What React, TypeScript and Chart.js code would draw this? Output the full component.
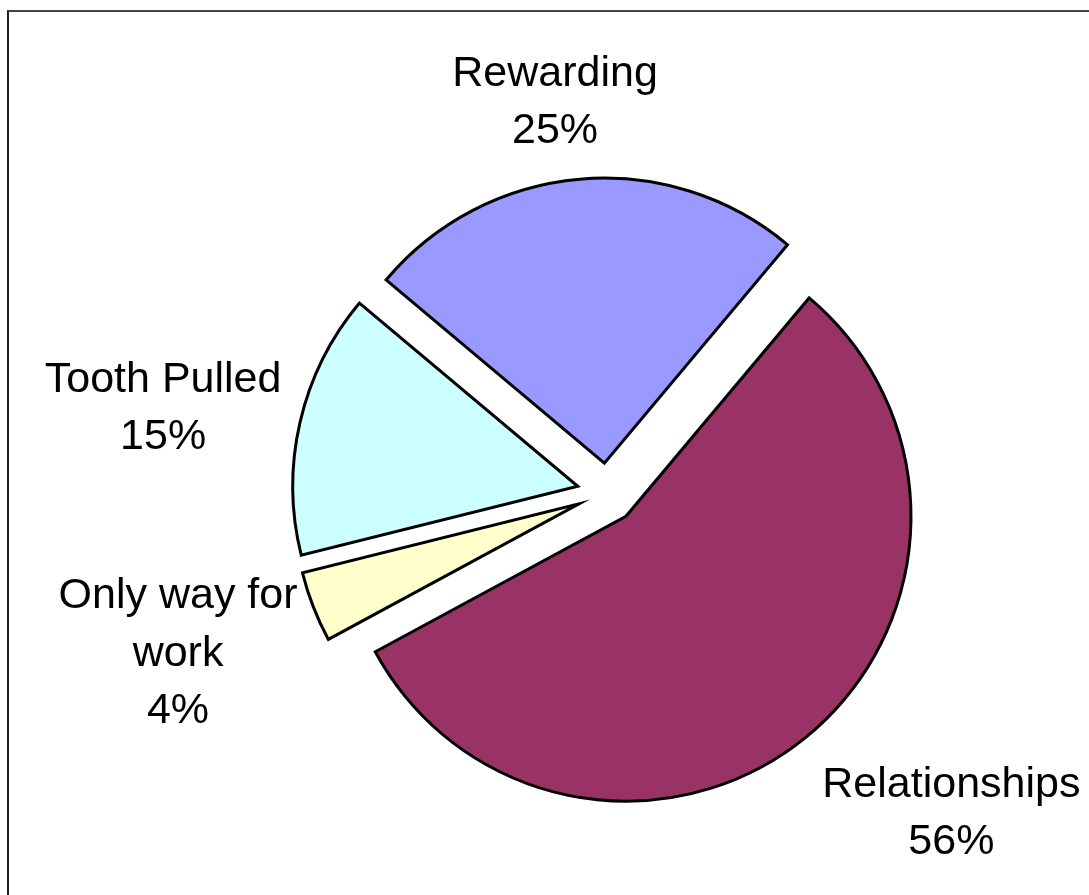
import React, { useEffect, useRef } from "react";
import { Chart, PieController, ArcElement } from "chart.js";

// ---- data ----
const categories = ["Relationships", "Only way for work", "Tooth Pulled", "Rewarding"];
const values = [56, 4, 15, 25];
const nameLines = [["Relationships"], ["Only way for", "work"], ["Tooth Pulled"], ["Rewarding"]];
const colors = ["#993366", "#FFFFCC", "#CCFFFF", "#9999FF"];
const labelNudge = [
  [120, 42],
  [-98, 29],
  [-98, -8],
  [-21, -40],
];

// ---- style constants ----
const EXPLODE = 30;
const LABEL_GAP = 40;
const FONT_SIZE = 43;
const LINE_H = 57.5;
const CAP = FONT_SIZE * 0.716;

class ExplodedArc extends (ArcElement as any) {
  static id = "explodedArc";
  draw(ctx: CanvasRenderingContext2D) {
    const self = this as any;
    const mid = (self.startAngle + self.endAngle) / 2;
    ctx.save();
    ctx.translate(Math.cos(mid) * EXPLODE, Math.sin(mid) * EXPLODE);
    super.draw(ctx);
    ctx.restore();
  }
}

class ExplodedPieController extends (PieController as any) {
  static id = "explodedPie";
  static defaults = { ...(PieController as any).defaults, dataElementType: "explodedArc" };
}

Chart.register(ArcElement, PieController, ExplodedArc as any, ExplodedPieController as any);

const labelPlugin = {
  id: "sliceLabels",
  afterDatasetsDraw(chart: any) {
    const meta = chart.getDatasetMeta(0);
    const ctx: CanvasRenderingContext2D = chart.ctx;
    ctx.save();
    ctx.font = `${FONT_SIZE}px "Liberation Sans", Arial, Helvetica, sans-serif`;
    ctx.fillStyle = "#000";
    ctx.textAlign = "center";
    ctx.textBaseline = "alphabetic";
    meta.data.forEach((arc: any, i: number) => {
      const { x, y, startAngle, endAngle, outerRadius } = arc.getProps(
        ["x", "y", "startAngle", "endAngle", "outerRadius"],
        true
      );
      const mid = (startAngle + endAngle) / 2;
      const d = outerRadius + EXPLODE + LABEL_GAP;
      const ax = x + Math.cos(mid) * d + labelNudge[i][0];
      const ay = y + Math.sin(mid) * d + labelNudge[i][1];
      const lines = [...nameLines[i], `${values[i]}%`];
      const first = ay - ((lines.length - 1) * LINE_H) / 2 + CAP / 2;
      lines.forEach((t, k) => ctx.fillText(t, ax, first + k * LINE_H));
    });
    ctx.restore();
  },
};

export default function App() {
  const ref = useRef<HTMLCanvasElement | null>(null);
  useEffect(() => {
    if (!ref.current) return;
    const chart = new Chart(ref.current, {
      type: "explodedPie" as any,
      data: {
        labels: categories,
        datasets: [
          {
            data: values,
            backgroundColor: colors,
            borderColor: "#000",
            borderWidth: 3,
            borderJoinStyle: "miter",
            rotation: 40,
            radius: 285,
          } as any,
        ],
      },
      options: {
        responsive: false,
        animation: false,
        devicePixelRatio: 1,
        events: [],
        layout: { padding: { left: 125, top: 91, right: 0, bottom: 0 } },
        plugins: { legend: { display: false }, tooltip: { enabled: false } },
      } as any,
      plugins: [labelPlugin],
    });
    return () => chart.destroy();
  }, []);
  return (
    <div
      style={{
        position: "absolute",
        left: 0,
        top: 0,
        width: 1089,
        height: 895,
        overflow: "hidden",
        background: "#fff",
      }}
    >
      <div
        style={{
          position: "absolute",
          left: 7,
          top: 10,
          width: 1200,
          height: 1000,
          borderLeft: "2px solid #222",
          borderTop: "2px solid #444",
        }}
      />
      <canvas ref={ref} width={1089} height={895} style={{ position: "absolute", left: 0, top: 0 }} />
    </div>
  );
}
